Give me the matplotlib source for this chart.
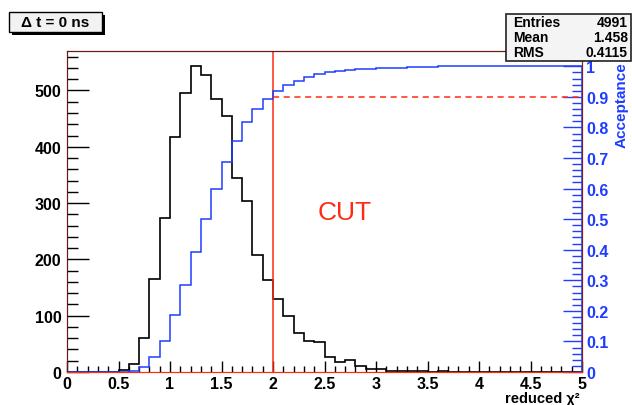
import matplotlib
matplotlib.use("Agg")
import matplotlib.pyplot as plt
import numpy as np
from matplotlib.patches import Rectangle
from matplotlib.ticker import FuncFormatter, MultipleLocator

plt.rcParams["font.family"] = ["Liberation Sans", "DejaVu Sans"]

# reduced chi2 histogram, 50 bins over [0, 5]
bin_edges = np.linspace(0.0, 5.0, 51)
counts = [
    0, 0, 0, 0, 0, 4, 14, 60, 166, 273,
    417, 496, 543, 528, 485, 454, 345, 303, 207, 163,
    130, 100, 69, 55, 53, 27, 18, 22, 11, 6,
    5, 2, 2, 1, 1, 0, 1, 0, 0, 0,
    0, 0, 0, 0, 0, 0, 0, 0, 0, 0,
]
# cumulative acceptance per bin (right axis)
acceptance = [
    0.0, 0.0, 0.0, 0.0, 0.0, 0.001, 0.004, 0.015, 0.048, 0.102,
    0.186, 0.285, 0.394, 0.500, 0.598, 0.688, 0.757, 0.818, 0.859, 0.892,
    0.918, 0.938, 0.952, 0.964, 0.975, 0.981, 0.984, 0.988, 0.990, 0.992,
    0.993, 0.995, 0.996, 0.997, 0.998, 0.999, 1.0, 1.0, 1.0, 1.0,
    1.0, 1.0, 1.0, 1.0, 1.0, 1.0, 1.0, 1.0, 1.0, 1.0,
]
cut_value = 2.0
cut_acceptance = 0.9
stats = [("Entries", "4991"), ("Mean", "1.458"), ("RMS", "0.4115")]

RED = "#ff2a14"
BLUE = "#1f3dff"
FRAME = "#6a1a12"
W, H = 632, 406

fig = plt.figure(figsize=(W / 100, H / 100), dpi=100)
ax = fig.add_axes([67 / W, 33 / H, 515 / W, 321 / H])
ax2 = ax.twinx()

ax.stairs(counts, bin_edges, color="black", linewidth=1.2)
ax.set_xlim(0, 5)
ax.set_ylim(0, 1.05 * max(counts))
ax.axvline(cut_value, color=RED, linewidth=1.1)

ax2.stairs(acceptance, bin_edges, color=BLUE, linewidth=1.1)
ax2.set_ylim(0, 1.05)
ax2.plot([cut_value, 5.0], [cut_acceptance, cut_acceptance], color=RED,
         linestyle=(0, (4, 3)), linewidth=1.1)

fmt = FuncFormatter(lambda v, p: f"{v:g}")

# x axis
ax.xaxis.set_major_locator(MultipleLocator(0.5))
ax.xaxis.set_minor_locator(MultipleLocator(0.1))
ax.xaxis.set_major_formatter(fmt)
ax.tick_params(axis="x", which="major", direction="in", length=8, width=1,
               labelsize=11.5, pad=3, top=False)
ax.tick_params(axis="x", which="minor", direction="in", length=4, width=1, top=False)

# left axis
ax.yaxis.set_major_locator(MultipleLocator(100))
ax.yaxis.set_minor_locator(MultipleLocator(20))
ax.tick_params(axis="y", which="major", direction="in", length=16, width=1,
               labelsize=11.5, pad=4, right=False)
ax.tick_params(axis="y", which="minor", direction="in", length=8, width=1, right=False)
for lbl in ax.get_xticklabels() + ax.get_yticklabels():
    lbl.set_fontweight("bold")

# right axis
ax2.yaxis.set_major_locator(MultipleLocator(0.1))
ax2.yaxis.set_minor_locator(MultipleLocator(0.02))
ax2.yaxis.set_major_formatter(fmt)
ax2.tick_params(axis="y", which="major", direction="in", length=14, width=1,
                color=BLUE, labelcolor=BLUE, labelsize=11.5, pad=3)
ax2.tick_params(axis="y", which="minor", direction="in", length=7, width=1, color=BLUE)
for lbl in ax2.get_yticklabels():
    lbl.set_fontweight("bold")

for a in (ax, ax2):
    a.spines["top"].set_color(FRAME)
    a.spines["left"].set_color(FRAME)
    a.spines["right"].set_color("#7a2030")
    a.spines["bottom"].set_color(RED)

fig.text(622 / W, 1 - 105 / H, "Acceptance", color=BLUE, fontsize=11,
         fontweight="bold", rotation=90, ha="center", va="center")
fig.text(580 / W, 1 - 399 / H, "reduced χ²", ha="right", va="center",
         fontsize=10.5, fontweight="bold")
ax.text(2.7, 284, "CUT", color=RED, fontsize=19, ha="center", va="center")

# title pave with shadow
fig.patches.append(Rectangle((12 / W, 1 - 36 / H), 93 / W, 20 / H,
                             transform=fig.transFigure, facecolor="black",
                             edgecolor="none"))
fig.patches.append(Rectangle((9 / W, 1 - 33 / H), 93 / W, 20 / H,
                             transform=fig.transFigure, facecolor="#f2f2f2",
                             edgecolor="black", linewidth=1))
fig.text(55 / W, 1 - 23 / H, "Δ t = 0 ns", ha="center", va="center",
         fontsize=11, fontweight="bold")

# statistics box
fig.patches.append(Rectangle((506 / W, 1 - 62 / H), 125 / W, 47 / H,
                             transform=fig.transFigure, facecolor="#f4f4f4",
                             edgecolor="#222222", linewidth=1.2, zorder=5))
for i, (name, value) in enumerate(stats):
    y = 1 - (23 + 15 * i) / H
    fig.text(513 / W, y, name, ha="left", va="center", fontsize=10,
             fontweight="bold", zorder=6)
    fig.text(628 / W, y, value, ha="right", va="center", fontsize=10,
             fontweight="bold", zorder=6)

fig.savefig("out.png", dpi=100)
